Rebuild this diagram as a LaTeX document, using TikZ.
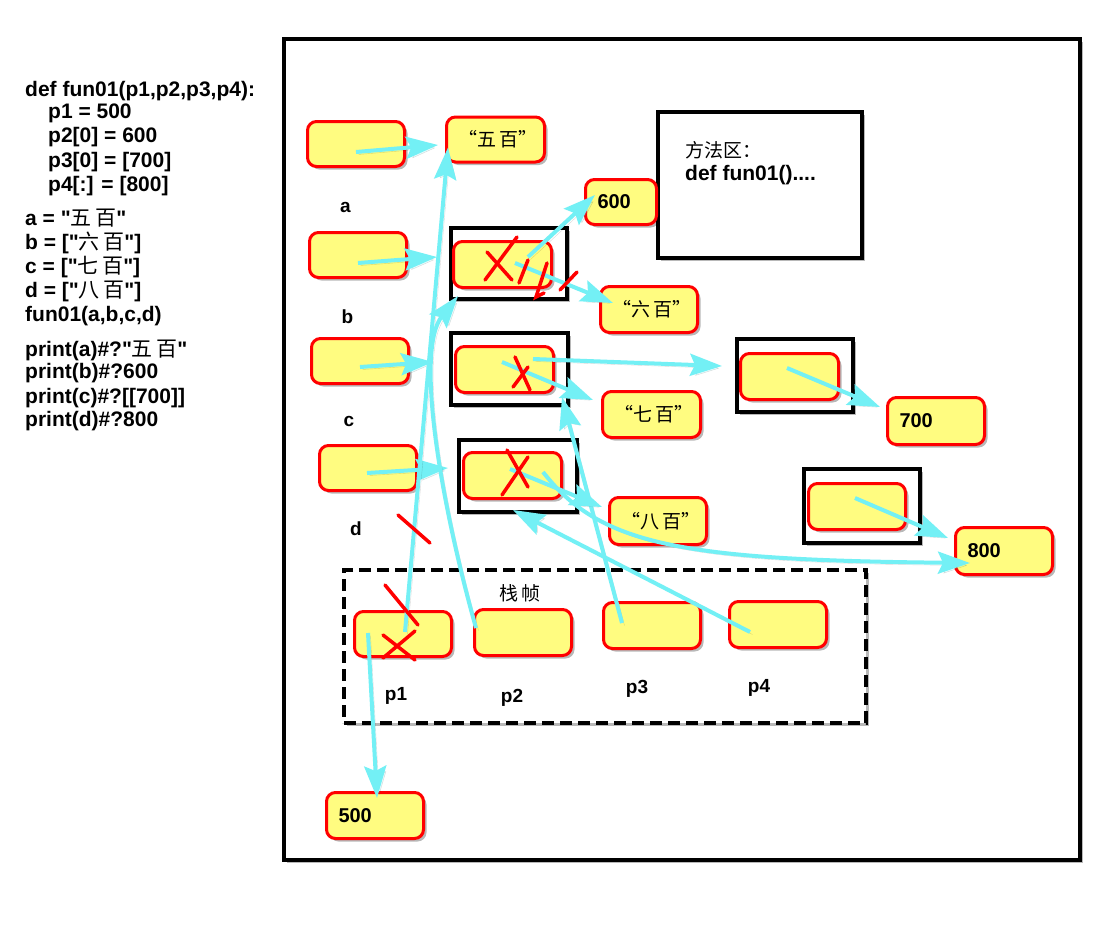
\documentclass[tikz,border=0pt]{standalone}
\usepackage{fontspec}
\setmainfont{Liberation Sans}
\newfontfamily\cjk{Noto Sans CJK SC}
\usetikzlibrary{arrows.meta,shadows,calc}
\definecolor{boxyellow}{RGB}{255,252,128}
\definecolor{arrcyan}{RGB}{115,240,245}
\definecolor{boxred}{RGB}{255,0,0}
\newcommand{\zh}[1]{{\cjk\mdseries #1}}
\newcommand{\dq}{\textquotedbl}
\begin{document}
\begin{tikzpicture}[x=1pt,y=-1pt,
  shad/.style={drop shadow={shadow xshift=3pt,shadow yshift=-3pt,opacity=0.28,fill=black}},
  ybox/.style={shad,draw=boxred,line width=3pt,fill=boxyellow,rounded corners=9pt,
    minimum width=97pt,minimum height=45pt,inner xsep=12pt,inner ysep=0pt,text width=73pt,align=left,
    font=\bfseries\fontsize{20}{24}\selectfont},
  zhbox/.style={ybox,font=\cjk\fontsize{19}{22}\selectfont},
  frame/.style={shad,draw=black,line width=4pt,fill=white,inner sep=0pt},
  arr/.style={draw=arrcyan,line width=4pt,-{Stealth[length=32pt,width=22pt,inset=5pt,fill=arrcyan]},
    preaction={draw=black,opacity=0.15,transform canvas={shift={(2.5pt,-2.5pt)}}}},
  redmark/.style={draw=boxred,line width=3.5pt,line cap=round},
  code/.style={anchor=base west,inner sep=0pt,font=\bfseries\fontsize{21}{24}\selectfont},
  lbl/.style={anchor=base,inner sep=0pt,font=\bfseries\fontsize{19}{22}\selectfont}]
\useasboundingbox (0,0) rectangle (1120,927);
\fill[white] (0,0) rectangle (1120,927);

% code text
\node[code] (l1) at (25,96) {def fun01(p1,p2,p3,p4):};
\node[code] (l2) at (48,118.5) {p1 = 500};
\node[code] (l3) at (48,142.7) {p2[0] = 600};
\node[code] (l4) at (48,167.5) {p3[0] = [700]};
\node[code] (l5) at (48,191.7) {p4[:] = [800]};
\node[code] (l6) at (25,225) {a = \dq\zh{五\,百}\dq};
\node[code] (l7) at (25,249.3) {b = [\dq\zh{六\,百}\dq]};
\node[code] (l8) at (25,273.3) {c = [\dq\zh{七\,百}\dq]};
\node[code] (l9) at (25,297.7) {d = [\dq\zh{八\,百}\dq]};
\node[code] (l10) at (25,321) {fun01(a,b,c,d)};
\node[code] (l11) at (25,356.7) {print(a)\#?\dq\zh{五\,百}\dq};
\node[code] (l12) at (25,378.5) {print(b)\#?600};
\node[code] (l13) at (25,403.3) {print(c)\#?[[700]]};
\node[code] (l14) at (25,426.7) {print(d)\#?800};

% frames
\node[frame,minimum width=796pt,minimum height=821pt] (outer) at (682,449.5) {};
\node[frame,minimum width=204pt,minimum height=146pt] (method) at (760,185) {};
\node[frame,dash pattern=on 12pt off 6pt,minimum width=522pt,minimum height=153pt] (stack) at (605,646.5) {};
\node[frame,minimum width=116pt,minimum height=71pt] (bf) at (509,263.5) {};
\node[frame,minimum width=117pt,minimum height=72pt] (cf) at (509.5,369) {};
\node[frame,minimum width=118pt,minimum height=72pt] (df) at (518,476) {};
\node[frame,minimum width=116pt,minimum height=73pt] (s7f) at (795,375.5) {};
\node[frame,minimum width=116pt,minimum height=74pt] (e8f) at (862,506) {};

\node[anchor=base west,inner sep=0pt,font=\cjk\fontsize{19}{22}\selectfont] (mt1) at (685,157) {方法区：};
\node[code] (mt2) at (685,180) {def fun01()....};

% yellow boxes
\node[ybox] (a) at (356,144) {};
\node[zhbox,minimum width=98pt,text width=74pt] (five) at (495.5,139.5) {“五\,百”};
\node[ybox] (b) at (358,255) {};
\node[ybox,minimum width=98pt,minimum height=46pt] (bin) at (502.5,264.5) {};
\node[ybox,minimum width=71pt,text width=47pt] (six00) at (621,202) {600};
\node[zhbox,minimum height=46pt] (six) at (649,309.5) {“六\,百”};
\node[ybox] (c) at (360,361) {};
\node[ybox,minimum width=98pt,minimum height=46pt] (cin) at (504.5,369.5) {};
\node[zhbox,minimum width=98pt,minimum height=46pt,text width=74pt] (seven) at (651.5,414.5) {“七\,百”};
\node[ybox,minimum width=98pt,minimum height=46pt] (s7in) at (789.5,376.5) {};
\node[ybox,minimum height=47pt] (s700) at (936,421) {700};
\node[ybox] (d) at (368,468) {};
\node[ybox,minimum width=98pt,minimum height=46pt] (din) at (512.5,475.5) {};
\node[zhbox,minimum height=47pt] (eight) at (658,521) {“八\,百”};
\node[ybox,minimum height=46pt] (e8in) at (857,506.5) {};
\node[ybox,minimum height=47pt] (e800) at (1004,551) {800};
\node[ybox] (p1) at (403,634) {};
\node[ybox,minimum height=46pt] (p2) at (523,632.5) {};
\node[ybox,minimum height=46pt] (p3) at (652,625.5) {};
\node[ybox,minimum height=46pt] (p4) at (778,624.5) {};
\node[ybox,minimum height=46pt] (f500) at (375,815.5) {500};

% labels
\node[lbl] (la) at (345.5,212) {a};
\node[lbl] (lb) at (347.5,323) {b};
\node[lbl] (lc) at (349,426.5) {c};
\node[lbl] (ld) at (356,535) {d};
\node[lbl] (lp1) at (396,700) {p1};
\node[lbl] (lp2) at (512,702) {p2};
\node[lbl] (lp3) at (637,693) {p3};
\node[lbl] (lp4) at (759,692) {p4};
\node[anchor=base,inner sep=0pt,font=\cjk\fontsize{19}{22}\selectfont] (zhen) at (520,600) {栈\,帧};

% arrows
\draw[arr] ($(a)+(0,8)$) -- ($(five.west)+(-7,5.5)$);
\draw[arr] ($(b)+(0,8)$) -- ($(bf.west)+(-12,-6.5)$);
\draw[arr] ($(c)+(0,6)$) -- ($(cf.west)+(-16,-7)$);
\draw[arr] ($(d)+(-1,5)$) -- ($(df.west)+(-9,-8)$);
\draw[arr] ($(p1)+(2,-2)$) -- ($(five.south)+(-47.5,-16)$);
\draw[arr] ($(p2)+(-47,-4.5)$) .. controls (440,500) and (415,350) .. ($(bf.south)+(-51,-5)$);
\draw[arr] ($(bin)+(25.5,-7.5)$) -- ($(six00.west)+(11,-7)$);
\draw[arr] ($(bin)+(12.5,-1.5)$) -- ($(six.west)+(14,-6.5)$);
\draw[arr] ($(cin)+(28.5,-10.5)$) -- ($(s7f.west)+(-13,-9.5)$);
\draw[arr] ($(cin)+(-2.5,-7.5)$) -- ($(seven.west)+(-8,-14.5)$);
\draw[arr] ($(p3)+(-30,-2.5)$) -- ($(cf.south)+(52.5,-10)$);
\draw[arr] ($(din)+(-2.5,-6.5)$) -- ($(eight.west)+(-6,-14)$);
\draw[arr] ($(din)+(30.5,-3.5)$) .. controls (600,545) and (680,560) .. ($(e800.west)+(16,12)$);
\draw[arr] ($(p4)+(-28,7.5)$) -- ($(df.south)+(-5,-4)$);
\draw[arr] ($(s7in)+(-2.5,-8.5)$) -- ($(s700.west)+(-6,-14)$);
\draw[arr] ($(e8in)+(-2,-8.5)$) -- ($(e800.west)+(-6,-13)$);
\draw[arr] ($(p1)+(-35,-1)$) -- ($(f500.north)+(2,7)$);

% red marks
\draw[redmark] (487,252) -- (512,280);
\draw[redmark] (517,237) -- (485,280);
\draw[redmark] (519,283) -- (528,260);
\draw[redmark] (547,263) -- (536,297) -- (544,293);
\draw[redmark] (560,290) -- (577,272);
\draw[redmark] (515,357) -- (530,390);
\draw[redmark] (528,367) -- (513,387);
\draw[redmark] (507,450) -- (528,487);
\draw[redmark] (528,457) -- (502,495);
\draw[redmark] (398,515) -- (430,543);
\draw[redmark] (385,585) -- (418,625);
\draw[redmark] (383,635) -- (415,660);
\draw[redmark] (415,631) -- (383,658);
\end{tikzpicture}
\end{document}
